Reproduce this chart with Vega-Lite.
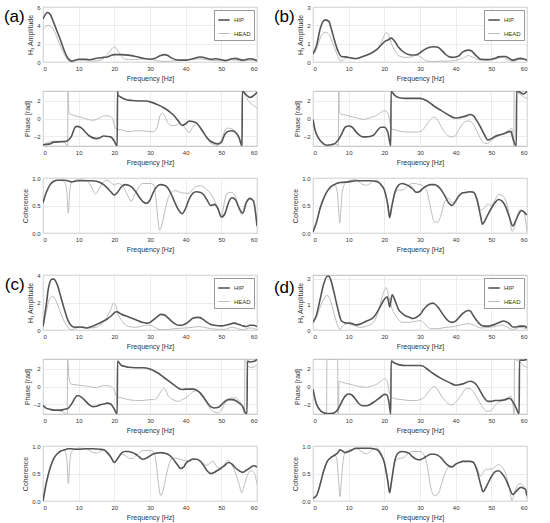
{
"$schema": "https://vega.github.io/schema/vega-lite/v6.json",
"padding": {"left": 3, "top": 3, "right": 3, "bottom": 3},
"config": {
 "font": "Liberation Sans",
 "view": {"stroke": "#aaaaaa", "strokeWidth": 0.8},
 "axis": {"domain": false, "ticks": false, "grid": true, "gridColor": "#e4e4e4", "gridWidth": 0.7, "labelFontSize": 6, "labelColor": "#333333", "titleFontSize": 7, "titleFontWeight": "normal", "titleColor": "#333333", "labelPadding": 3, "titlePadding": 3},
 "axisX": {"titleColor": "#333333", "labelColor": "#333333"},
 "axisY": {"titleColor": "#333333", "labelColor": "#333333"},
 "legend": {"symbolType": "stroke", "symbolSize": 130, "labelFontSize": 6, "labelColor": "#333333", "strokeColor": "#999999", "fillColor": "#ffffff", "padding": 3, "rowPadding": 3, "offset": 3, "labelOffset": 3},
 "title": {"fontWeight": "normal", "color": "#000000"}
},
"datasets": {
"a1": [
{"s":"HEAD","f":0,"v":3.6},{"s":"HEAD","f":1.5,"v":4.0},{"s":"HEAD","f":3,"v":3.5},{"s":"HEAD","f":4,"v":2.6},{"s":"HEAD","f":5,"v":1.6},{"s":"HEAD","f":6,"v":0.8},{"s":"HEAD","f":7,"v":0.2},{"s":"HEAD","f":8,"v":0.05},{"s":"HEAD","f":9,"v":0.15},{"s":"HEAD","f":10,"v":0.2},{"s":"HEAD","f":12,"v":0.15},{"s":"HEAD","f":14,"v":0.1},{"s":"HEAD","f":16,"v":0.2},{"s":"HEAD","f":17,"v":0.4},{"s":"HEAD","f":18,"v":0.8},{"s":"HEAD","f":19,"v":1.3},{"s":"HEAD","f":20,"v":1.65},{"s":"HEAD","f":21,"v":1.2},{"s":"HEAD","f":22,"v":0.6},{"s":"HEAD","f":23,"v":0.3},{"s":"HEAD","f":25,"v":0.25},{"s":"HEAD","f":27,"v":0.3},{"s":"HEAD","f":29,"v":0.35},{"s":"HEAD","f":30,"v":0.3},{"s":"HEAD","f":32,"v":0.15},{"s":"HEAD","f":34,"v":0.05},{"s":"HEAD","f":36,"v":0.1},{"s":"HEAD","f":38,"v":0.15},{"s":"HEAD","f":40,"v":0.25},{"s":"HEAD","f":42,"v":0.3},{"s":"HEAD","f":44,"v":0.35},{"s":"HEAD","f":46,"v":0.25},{"s":"HEAD","f":48,"v":0.15},{"s":"HEAD","f":50,"v":0.15},{"s":"HEAD","f":52,"v":0.25},{"s":"HEAD","f":54,"v":0.2},{"s":"HEAD","f":56,"v":0.1},{"s":"HEAD","f":58,"v":0.2},{"s":"HEAD","f":60,"v":0.1},
{"s":"HIP","f":0,"v":4.7},{"s":"HIP","f":1.3,"v":5.4},{"s":"HIP","f":2,"v":5.2},{"s":"HIP","f":3,"v":4.3},{"s":"HIP","f":4,"v":3.3},{"s":"HIP","f":5,"v":2.3},{"s":"HIP","f":6,"v":1.2},{"s":"HIP","f":7,"v":0.4},{"s":"HIP","f":8,"v":0.1},{"s":"HIP","f":9,"v":0.2},{"s":"HIP","f":10,"v":0.3},{"s":"HIP","f":12,"v":0.3},{"s":"HIP","f":13,"v":0.25},{"s":"HIP","f":15,"v":0.4},{"s":"HIP","f":17,"v":0.5},{"s":"HIP","f":18,"v":0.55},{"s":"HIP","f":19,"v":0.7},{"s":"HIP","f":20,"v":0.8},{"s":"HIP","f":22,"v":0.8},{"s":"HIP","f":24,"v":0.75},{"s":"HIP","f":26,"v":0.6},{"s":"HIP","f":28,"v":0.4},{"s":"HIP","f":30,"v":0.3},{"s":"HIP","f":31,"v":0.35},{"s":"HIP","f":33,"v":0.7},{"s":"HIP","f":34,"v":0.8},{"s":"HIP","f":35,"v":0.7},{"s":"HIP","f":36,"v":0.45},{"s":"HIP","f":38,"v":0.2},{"s":"HIP","f":40,"v":0.2},{"s":"HIP","f":42,"v":0.35},{"s":"HIP","f":44,"v":0.55},{"s":"HIP","f":45,"v":0.5},{"s":"HIP","f":47,"v":0.3},{"s":"HIP","f":48.5,"v":0.35},{"s":"HIP","f":50,"v":0.25},{"s":"HIP","f":51,"v":0.15},{"s":"HIP","f":53,"v":0.35},{"s":"HIP","f":54,"v":0.4},{"s":"HIP","f":55,"v":0.3},{"s":"HIP","f":56,"v":0.2},{"s":"HIP","f":58,"v":0.35},{"s":"HIP","f":59,"v":0.3},{"s":"HIP","f":60,"v":0.15}
],
"a2": [
{"s":"HEAD","f":0,"v":-3.0},{"s":"HEAD","f":1,"v":-2.8},{"s":"HEAD","f":3,"v":-2.6},{"s":"HEAD","f":5,"v":-2.6},{"s":"HEAD","f":6,"v":-2.7},{"s":"HEAD","f":6.9,"v":-3.14},{"s":"HEAD","f":7.0,"v":3.14},{"s":"HEAD","f":7.2,"v":1.0},{"s":"HEAD","f":7.5,"v":0.5},{"s":"HEAD","f":8,"v":0.45},{"s":"HEAD","f":9,"v":0.3},{"s":"HEAD","f":11,"v":0.1},{"s":"HEAD","f":13,"v":-0.15},{"s":"HEAD","f":14,"v":-0.2},{"s":"HEAD","f":15,"v":-0.1},{"s":"HEAD","f":16,"v":0.1},{"s":"HEAD","f":17,"v":0.3},{"s":"HEAD","f":18,"v":0.3},{"s":"HEAD","f":19,"v":0.2},{"s":"HEAD","f":19.5,"v":0},{"s":"HEAD","f":20,"v":-0.8},{"s":"HEAD","f":20.5,"v":-1.2},{"s":"HEAD","f":22,"v":-1.3},{"s":"HEAD","f":24,"v":-1.5},{"s":"HEAD","f":26,"v":-1.4},{"s":"HEAD","f":28,"v":-1.4},{"s":"HEAD","f":30,"v":-1.5},{"s":"HEAD","f":31,"v":-1.5},{"s":"HEAD","f":32,"v":-1.0},{"s":"HEAD","f":33,"v":0.5},{"s":"HEAD","f":33.5,"v":0.6},{"s":"HEAD","f":34,"v":0.4},{"s":"HEAD","f":35,"v":-0.5},{"s":"HEAD","f":36,"v":-0.8},{"s":"HEAD","f":37,"v":-0.8},{"s":"HEAD","f":38,"v":-0.6},{"s":"HEAD","f":39,"v":-0.7},{"s":"HEAD","f":40,"v":-1.2},{"s":"HEAD","f":41,"v":-1.6},{"s":"HEAD","f":42,"v":-1.0},{"s":"HEAD","f":43,"v":-0.6},{"s":"HEAD","f":44,"v":-0.9},{"s":"HEAD","f":45,"v":-1.6},{"s":"HEAD","f":46,"v":-2.3},{"s":"HEAD","f":47,"v":-2.8},{"s":"HEAD","f":48,"v":-3.0},{"s":"HEAD","f":49,"v":-3.1},{"s":"HEAD","f":50,"v":-2.5},{"s":"HEAD","f":51,"v":-1.4},{"s":"HEAD","f":52,"v":-1.1},{"s":"HEAD","f":53,"v":-1.2},{"s":"HEAD","f":54,"v":-1.5},{"s":"HEAD","f":55,"v":-2.4},{"s":"HEAD","f":55.8,"v":-3.14},{"s":"HEAD","f":55.9,"v":3.14},{"s":"HEAD","f":57,"v":2.4},{"s":"HEAD","f":58,"v":1.8},{"s":"HEAD","f":59,"v":1.5},{"s":"HEAD","f":60,"v":1.2},
{"s":"HIP","f":0,"v":-3.0},{"s":"HIP","f":2,"v":-2.9},{"s":"HIP","f":3,"v":-2.7},{"s":"HIP","f":5,"v":-2.65},{"s":"HIP","f":6.5,"v":-2.6},{"s":"HIP","f":7,"v":-2.5},{"s":"HIP","f":8,"v":-2.0},{"s":"HIP","f":9,"v":-1.0},{"s":"HIP","f":9.5,"v":-0.9},{"s":"HIP","f":10.5,"v":-1.0},{"s":"HIP","f":12,"v":-1.6},{"s":"HIP","f":13,"v":-2.0},{"s":"HIP","f":15,"v":-2.3},{"s":"HIP","f":16,"v":-2.2},{"s":"HIP","f":17,"v":-2.0},{"s":"HIP","f":18,"v":-2.05},{"s":"HIP","f":19,"v":-2.1},{"s":"HIP","f":20,"v":-2.6},{"s":"HIP","f":20.8,"v":-3.14},{"s":"HIP","f":20.9,"v":3.1},{"s":"HIP","f":21,"v":2.7},{"s":"HIP","f":22,"v":2.4},{"s":"HIP","f":23,"v":2.2},{"s":"HIP","f":25,"v":2.05},{"s":"HIP","f":27,"v":2.0},{"s":"HIP","f":29,"v":2.0},{"s":"HIP","f":30,"v":1.9},{"s":"HIP","f":32,"v":1.6},{"s":"HIP","f":34,"v":1.2},{"s":"HIP","f":36,"v":0.6},{"s":"HIP","f":37,"v":0.2},{"s":"HIP","f":38,"v":-0.3},{"s":"HIP","f":39,"v":-0.8},{"s":"HIP","f":40,"v":-0.6},{"s":"HIP","f":41,"v":-0.3},{"s":"HIP","f":42,"v":-0.35},{"s":"HIP","f":43,"v":-0.5},{"s":"HIP","f":44,"v":-1.0},{"s":"HIP","f":45,"v":-1.6},{"s":"HIP","f":46,"v":-2.2},{"s":"HIP","f":47,"v":-2.6},{"s":"HIP","f":48,"v":-2.8},{"s":"HIP","f":49,"v":-2.9},{"s":"HIP","f":50,"v":-2.7},{"s":"HIP","f":51,"v":-1.8},{"s":"HIP","f":52,"v":-1.45},{"s":"HIP","f":53,"v":-1.4},{"s":"HIP","f":54,"v":-1.6},{"s":"HIP","f":55,"v":-2.2},{"s":"HIP","f":55.8,"v":-3.14},{"s":"HIP","f":55.9,"v":3.14},{"s":"HIP","f":57,"v":2.7},{"s":"HIP","f":58,"v":2.4},{"s":"HIP","f":59,"v":2.6},{"s":"HIP","f":60,"v":3.0}
],
"a3": [
{"s":"HEAD","f":0,"v":0.55},{"s":"HEAD","f":1,"v":0.75},{"s":"HEAD","f":2,"v":0.88},{"s":"HEAD","f":3,"v":0.94},{"s":"HEAD","f":5,"v":0.96},{"s":"HEAD","f":6,"v":0.93},{"s":"HEAD","f":6.7,"v":0.75},{"s":"HEAD","f":7.1,"v":0.36},{"s":"HEAD","f":7.5,"v":0.75},{"s":"HEAD","f":8,"v":0.92},{"s":"HEAD","f":10,"v":0.97},{"s":"HEAD","f":12,"v":0.96},{"s":"HEAD","f":13,"v":0.9},{"s":"HEAD","f":14,"v":0.78},{"s":"HEAD","f":14.7,"v":0.71},{"s":"HEAD","f":15.5,"v":0.78},{"s":"HEAD","f":17,"v":0.93},{"s":"HEAD","f":18,"v":0.96},{"s":"HEAD","f":20,"v":0.88},{"s":"HEAD","f":21,"v":0.9},{"s":"HEAD","f":22,"v":0.88},{"s":"HEAD","f":23,"v":0.78},{"s":"HEAD","f":24,"v":0.65},{"s":"HEAD","f":24.7,"v":0.57},{"s":"HEAD","f":25.5,"v":0.67},{"s":"HEAD","f":27,"v":0.85},{"s":"HEAD","f":28,"v":0.9},{"s":"HEAD","f":30,"v":0.9},{"s":"HEAD","f":31,"v":0.88},{"s":"HEAD","f":31.7,"v":0.6},{"s":"HEAD","f":32.3,"v":0.2},{"s":"HEAD","f":32.7,"v":0.05},{"s":"HEAD","f":33.5,"v":0.2},{"s":"HEAD","f":34.5,"v":0.5},{"s":"HEAD","f":35.5,"v":0.7},{"s":"HEAD","f":37,"v":0.77},{"s":"HEAD","f":39,"v":0.73},{"s":"HEAD","f":41,"v":0.72},{"s":"HEAD","f":42,"v":0.8},{"s":"HEAD","f":44,"v":0.86},{"s":"HEAD","f":45,"v":0.84},{"s":"HEAD","f":46,"v":0.78},{"s":"HEAD","f":47,"v":0.72},{"s":"HEAD","f":48,"v":0.6},{"s":"HEAD","f":49,"v":0.45},{"s":"HEAD","f":50,"v":0.32},{"s":"HEAD","f":51,"v":0.6},{"s":"HEAD","f":51.5,"v":0.72},{"s":"HEAD","f":53,"v":0.74},{"s":"HEAD","f":54,"v":0.65},{"s":"HEAD","f":55,"v":0.45},{"s":"HEAD","f":55.7,"v":0.33},{"s":"HEAD","f":56.5,"v":0.5},{"s":"HEAD","f":57.5,"v":0.62},{"s":"HEAD","f":59,"v":0.6},{"s":"HEAD","f":60,"v":0.1},
{"s":"HIP","f":0,"v":0.55},{"s":"HIP","f":1,"v":0.75},{"s":"HIP","f":2,"v":0.88},{"s":"HIP","f":3,"v":0.94},{"s":"HIP","f":4,"v":0.96},{"s":"HIP","f":6,"v":0.96},{"s":"HIP","f":7,"v":0.95},{"s":"HIP","f":8,"v":0.93},{"s":"HIP","f":9,"v":0.94},{"s":"HIP","f":10,"v":0.95},{"s":"HIP","f":12,"v":0.95},{"s":"HIP","f":14,"v":0.95},{"s":"HIP","f":16,"v":0.92},{"s":"HIP","f":17,"v":0.88},{"s":"HIP","f":18,"v":0.82},{"s":"HIP","f":19,"v":0.75},{"s":"HIP","f":20,"v":0.69},{"s":"HIP","f":21,"v":0.75},{"s":"HIP","f":22,"v":0.84},{"s":"HIP","f":23,"v":0.88},{"s":"HIP","f":24,"v":0.87},{"s":"HIP","f":25,"v":0.83},{"s":"HIP","f":26,"v":0.75},{"s":"HIP","f":27,"v":0.65},{"s":"HIP","f":28,"v":0.57},{"s":"HIP","f":29,"v":0.54},{"s":"HIP","f":30,"v":0.6},{"s":"HIP","f":31,"v":0.75},{"s":"HIP","f":32,"v":0.85},{"s":"HIP","f":33,"v":0.88},{"s":"HIP","f":34,"v":0.87},{"s":"HIP","f":35,"v":0.82},{"s":"HIP","f":36,"v":0.7},{"s":"HIP","f":37,"v":0.55},{"s":"HIP","f":38,"v":0.42},{"s":"HIP","f":39,"v":0.35},{"s":"HIP","f":40,"v":0.45},{"s":"HIP","f":41,"v":0.62},{"s":"HIP","f":42,"v":0.72},{"s":"HIP","f":43,"v":0.75},{"s":"HIP","f":44,"v":0.74},{"s":"HIP","f":45,"v":0.7},{"s":"HIP","f":46,"v":0.6},{"s":"HIP","f":47,"v":0.5},{"s":"HIP","f":48,"v":0.52},{"s":"HIP","f":49,"v":0.45},{"s":"HIP","f":50,"v":0.29},{"s":"HIP","f":51,"v":0.35},{"s":"HIP","f":52,"v":0.55},{"s":"HIP","f":53,"v":0.64},{"s":"HIP","f":54,"v":0.6},{"s":"HIP","f":55,"v":0.45},{"s":"HIP","f":56,"v":0.36},{"s":"HIP","f":57,"v":0.55},{"s":"HIP","f":58,"v":0.63},{"s":"HIP","f":59,"v":0.58},{"s":"HIP","f":60,"v":0.13}
],
"b1": [
{"s":"HEAD","f":0,"v":0.4},{"s":"HEAD","f":1,"v":0.7},{"s":"HEAD","f":2,"v":1.3},{"s":"HEAD","f":3,"v":1.6},{"s":"HEAD","f":3.5,"v":1.62},{"s":"HEAD","f":4.5,"v":1.5},{"s":"HEAD","f":5,"v":1.3},{"s":"HEAD","f":6,"v":0.8},{"s":"HEAD","f":7,"v":0.3},{"s":"HEAD","f":7.7,"v":0.05},{"s":"HEAD","f":8.5,"v":0.1},{"s":"HEAD","f":9,"v":0.2},{"s":"HEAD","f":10,"v":0.25},{"s":"HEAD","f":12,"v":0.2},{"s":"HEAD","f":14,"v":0.3},{"s":"HEAD","f":16,"v":0.45},{"s":"HEAD","f":18,"v":0.7},{"s":"HEAD","f":19,"v":1.0},{"s":"HEAD","f":20,"v":1.45},{"s":"HEAD","f":20.5,"v":1.6},{"s":"HEAD","f":21,"v":1.55},{"s":"HEAD","f":22,"v":1.0},{"s":"HEAD","f":23,"v":0.6},{"s":"HEAD","f":24,"v":0.35},{"s":"HEAD","f":26,"v":0.25},{"s":"HEAD","f":28,"v":0.3},{"s":"HEAD","f":29,"v":0.38},{"s":"HEAD","f":30,"v":0.3},{"s":"HEAD","f":31,"v":0.15},{"s":"HEAD","f":32,"v":0.05},{"s":"HEAD","f":34,"v":0.02},{"s":"HEAD","f":36,"v":0.05},{"s":"HEAD","f":38,"v":0.05},{"s":"HEAD","f":40,"v":0.1},{"s":"HEAD","f":42,"v":0.2},{"s":"HEAD","f":43.5,"v":0.35},{"s":"HEAD","f":45,"v":0.25},{"s":"HEAD","f":47,"v":0.1},{"s":"HEAD","f":49,"v":0.1},{"s":"HEAD","f":51,"v":0.15},{"s":"HEAD","f":53,"v":0.25},{"s":"HEAD","f":54,"v":0.2},{"s":"HEAD","f":56,"v":0.02},{"s":"HEAD","f":57,"v":0.08},{"s":"HEAD","f":58,"v":0.15},{"s":"HEAD","f":60,"v":0.1},
{"s":"HIP","f":0,"v":0.45},{"s":"HIP","f":1,"v":0.9},{"s":"HIP","f":2,"v":1.8},{"s":"HIP","f":3,"v":2.25},{"s":"HIP","f":3.5,"v":2.3},{"s":"HIP","f":4.5,"v":2.2},{"s":"HIP","f":5,"v":1.9},{"s":"HIP","f":6,"v":1.2},{"s":"HIP","f":7,"v":0.6},{"s":"HIP","f":8,"v":0.3},{"s":"HIP","f":9,"v":0.28},{"s":"HIP","f":10,"v":0.25},{"s":"HIP","f":11,"v":0.2},{"s":"HIP","f":12,"v":0.18},{"s":"HIP","f":14,"v":0.3},{"s":"HIP","f":16,"v":0.45},{"s":"HIP","f":18,"v":0.7},{"s":"HIP","f":19,"v":0.9},{"s":"HIP","f":20,"v":1.1},{"s":"HIP","f":21,"v":1.2},{"s":"HIP","f":22,"v":1.3},{"s":"HIP","f":23,"v":1.1},{"s":"HIP","f":24,"v":0.8},{"s":"HIP","f":25,"v":0.6},{"s":"HIP","f":27,"v":0.4},{"s":"HIP","f":28,"v":0.38},{"s":"HIP","f":29,"v":0.4},{"s":"HIP","f":30,"v":0.5},{"s":"HIP","f":31,"v":0.65},{"s":"HIP","f":33,"v":0.82},{"s":"HIP","f":34,"v":0.83},{"s":"HIP","f":35,"v":0.8},{"s":"HIP","f":36,"v":0.65},{"s":"HIP","f":37,"v":0.45},{"s":"HIP","f":38,"v":0.3},{"s":"HIP","f":39,"v":0.25},{"s":"HIP","f":40,"v":0.27},{"s":"HIP","f":41,"v":0.35},{"s":"HIP","f":42,"v":0.55},{"s":"HIP","f":43.5,"v":0.65},{"s":"HIP","f":44.5,"v":0.6},{"s":"HIP","f":45,"v":0.5},{"s":"HIP","f":46,"v":0.3},{"s":"HIP","f":47,"v":0.15},{"s":"HIP","f":49,"v":0.13},{"s":"HIP","f":50,"v":0.15},{"s":"HIP","f":51,"v":0.2},{"s":"HIP","f":52,"v":0.28},{"s":"HIP","f":53,"v":0.3},{"s":"HIP","f":54,"v":0.3},{"s":"HIP","f":55,"v":0.2},{"s":"HIP","f":56,"v":0.1},{"s":"HIP","f":57,"v":0.15},{"s":"HIP","f":58,"v":0.2},{"s":"HIP","f":59,"v":0.18},{"s":"HIP","f":60,"v":0.1}
],
"b2": [
{"s":"HEAD","f":0,"v":-0.1},{"s":"HEAD","f":1,"v":-1.9},{"s":"HEAD","f":2,"v":-2.6},{"s":"HEAD","f":3,"v":-3.0},{"s":"HEAD","f":4,"v":-3.1},{"s":"HEAD","f":5,"v":-3.0},{"s":"HEAD","f":6,"v":-2.9},{"s":"HEAD","f":6.8,"v":-3.0},{"s":"HEAD","f":7.1,"v":-3.14},{"s":"HEAD","f":7.2,"v":3.14},{"s":"HEAD","f":7.4,"v":0.8},{"s":"HEAD","f":7.8,"v":0.5},{"s":"HEAD","f":9,"v":0.4},{"s":"HEAD","f":11,"v":0.2},{"s":"HEAD","f":13,"v":0.0},{"s":"HEAD","f":14,"v":-0.1},{"s":"HEAD","f":15,"v":-0.05},{"s":"HEAD","f":16,"v":0.1},{"s":"HEAD","f":18,"v":0.4},{"s":"HEAD","f":19,"v":0.7},{"s":"HEAD","f":20,"v":0.9},{"s":"HEAD","f":21,"v":0.6},{"s":"HEAD","f":21.6,"v":-0.5},{"s":"HEAD","f":22,"v":-1.2},{"s":"HEAD","f":23,"v":-1.3},{"s":"HEAD","f":25,"v":-1.5},{"s":"HEAD","f":27,"v":-1.55},{"s":"HEAD","f":29,"v":-1.55},{"s":"HEAD","f":30,"v":-1.5},{"s":"HEAD","f":31,"v":-1.2},{"s":"HEAD","f":32,"v":-0.6},{"s":"HEAD","f":33,"v":-0.1},{"s":"HEAD","f":34,"v":0.15},{"s":"HEAD","f":35,"v":-0.2},{"s":"HEAD","f":36,"v":-1.0},{"s":"HEAD","f":37,"v":-1.6},{"s":"HEAD","f":38,"v":-2.0},{"s":"HEAD","f":39,"v":-2.1},{"s":"HEAD","f":40,"v":-1.9},{"s":"HEAD","f":41,"v":-1.2},{"s":"HEAD","f":42,"v":-0.6},{"s":"HEAD","f":43,"v":-0.3},{"s":"HEAD","f":44,"v":-0.3},{"s":"HEAD","f":45,"v":-0.7},{"s":"HEAD","f":46,"v":-1.5},{"s":"HEAD","f":47,"v":-2.3},{"s":"HEAD","f":48,"v":-2.8},{"s":"HEAD","f":49,"v":-2.85},{"s":"HEAD","f":50,"v":-2.5},{"s":"HEAD","f":51,"v":-2.2},{"s":"HEAD","f":52,"v":-2.0},{"s":"HEAD","f":53,"v":-1.8},{"s":"HEAD","f":54,"v":-1.6},{"s":"HEAD","f":55,"v":-1.3},{"s":"HEAD","f":55.7,"v":-1.1},{"s":"HEAD","f":56,"v":-2.0},{"s":"HEAD","f":56.3,"v":-3.14},{"s":"HEAD","f":56.4,"v":3.14},{"s":"HEAD","f":57,"v":3.0},{"s":"HEAD","f":58,"v":2.8},{"s":"HEAD","f":59,"v":2.5},{"s":"HEAD","f":60,"v":2.3},
{"s":"HIP","f":0,"v":-0.1},{"s":"HIP","f":0.5,"v":-1.2},{"s":"HIP","f":1,"v":-1.8},{"s":"HIP","f":2,"v":-2.5},{"s":"HIP","f":3,"v":-2.9},{"s":"HIP","f":4,"v":-3.05},{"s":"HIP","f":5,"v":-3.0},{"s":"HIP","f":6,"v":-2.9},{"s":"HIP","f":7,"v":-2.5},{"s":"HIP","f":8,"v":-1.8},{"s":"HIP","f":9,"v":-1.0},{"s":"HIP","f":10,"v":-0.85},{"s":"HIP","f":11,"v":-1.0},{"s":"HIP","f":12,"v":-1.5},{"s":"HIP","f":13,"v":-1.9},{"s":"HIP","f":14,"v":-2.1},{"s":"HIP","f":15,"v":-2.1},{"s":"HIP","f":16,"v":-2.05},{"s":"HIP","f":17,"v":-1.9},{"s":"HIP","f":18,"v":-1.4},{"s":"HIP","f":19,"v":-1.0},{"s":"HIP","f":20,"v":-1.0},{"s":"HIP","f":21,"v":-1.6},{"s":"HIP","f":21.8,"v":-3.14},{"s":"HIP","f":21.9,"v":3.1},{"s":"HIP","f":23,"v":2.6},{"s":"HIP","f":24,"v":2.4},{"s":"HIP","f":26,"v":2.3},{"s":"HIP","f":28,"v":2.3},{"s":"HIP","f":30,"v":2.3},{"s":"HIP","f":31,"v":2.2},{"s":"HIP","f":32,"v":2.0},{"s":"HIP","f":34,"v":1.4},{"s":"HIP","f":36,"v":0.9},{"s":"HIP","f":38,"v":0.4},{"s":"HIP","f":40,"v":0.05},{"s":"HIP","f":41,"v":0.1},{"s":"HIP","f":43,"v":0.3},{"s":"HIP","f":44,"v":0.45},{"s":"HIP","f":45,"v":0.3},{"s":"HIP","f":46,"v":-0.3},{"s":"HIP","f":47,"v":-1.0},{"s":"HIP","f":48,"v":-1.8},{"s":"HIP","f":49,"v":-2.45},{"s":"HIP","f":50,"v":-2.3},{"s":"HIP","f":51,"v":-2.05},{"s":"HIP","f":52,"v":-1.9},{"s":"HIP","f":53,"v":-1.8},{"s":"HIP","f":54,"v":-1.65},{"s":"HIP","f":55,"v":-1.5},{"s":"HIP","f":55.5,"v":-1.5},{"s":"HIP","f":56,"v":-2.2},{"s":"HIP","f":57,"v":-3.14},{"s":"HIP","f":57.1,"v":3.14},{"s":"HIP","f":58,"v":3.0},{"s":"HIP","f":59,"v":2.8},{"s":"HIP","f":60,"v":3.1}
],
"b3": [
{"s":"HEAD","f":0,"v":0.02},{"s":"HEAD","f":1,"v":0.2},{"s":"HEAD","f":2,"v":0.45},{"s":"HEAD","f":3,"v":0.63},{"s":"HEAD","f":4,"v":0.76},{"s":"HEAD","f":5,"v":0.84},{"s":"HEAD","f":6,"v":0.88},{"s":"HEAD","f":6.8,"v":0.75},{"s":"HEAD","f":7.2,"v":0.4},{"s":"HEAD","f":7.5,"v":0.18},{"s":"HEAD","f":7.8,"v":0.4},{"s":"HEAD","f":8.2,"v":0.75},{"s":"HEAD","f":9,"v":0.9},{"s":"HEAD","f":10,"v":0.95},{"s":"HEAD","f":12,"v":0.97},{"s":"HEAD","f":13,"v":0.93},{"s":"HEAD","f":14,"v":0.88},{"s":"HEAD","f":15,"v":0.87},{"s":"HEAD","f":16,"v":0.9},{"s":"HEAD","f":17,"v":0.95},{"s":"HEAD","f":18,"v":0.96},{"s":"HEAD","f":19,"v":0.9},{"s":"HEAD","f":20,"v":0.78},{"s":"HEAD","f":21,"v":0.5},{"s":"HEAD","f":21.5,"v":0.3},{"s":"HEAD","f":22,"v":0.45},{"s":"HEAD","f":23,"v":0.72},{"s":"HEAD","f":24,"v":0.78},{"s":"HEAD","f":25,"v":0.78},{"s":"HEAD","f":26,"v":0.82},{"s":"HEAD","f":27,"v":0.88},{"s":"HEAD","f":28,"v":0.9},{"s":"HEAD","f":30,"v":0.88},{"s":"HEAD","f":31,"v":0.85},{"s":"HEAD","f":32,"v":0.75},{"s":"HEAD","f":33,"v":0.45},{"s":"HEAD","f":34,"v":0.2},{"s":"HEAD","f":35,"v":0.2},{"s":"HEAD","f":36,"v":0.35},{"s":"HEAD","f":37,"v":0.58},{"s":"HEAD","f":38,"v":0.63},{"s":"HEAD","f":39,"v":0.55},{"s":"HEAD","f":40,"v":0.6},{"s":"HEAD","f":41,"v":0.7},{"s":"HEAD","f":42,"v":0.73},{"s":"HEAD","f":43,"v":0.73},{"s":"HEAD","f":44,"v":0.75},{"s":"HEAD","f":45,"v":0.75},{"s":"HEAD","f":46,"v":0.63},{"s":"HEAD","f":47,"v":0.42},{"s":"HEAD","f":48,"v":0.45},{"s":"HEAD","f":49,"v":0.53},{"s":"HEAD","f":50,"v":0.5},{"s":"HEAD","f":51,"v":0.6},{"s":"HEAD","f":52,"v":0.7},{"s":"HEAD","f":53,"v":0.68},{"s":"HEAD","f":54,"v":0.6},{"s":"HEAD","f":55,"v":0.35},{"s":"HEAD","f":55.8,"v":0.03},{"s":"HEAD","f":56.5,"v":0.1},{"s":"HEAD","f":57,"v":0.25},{"s":"HEAD","f":58,"v":0.42},{"s":"HEAD","f":59,"v":0.4},{"s":"HEAD","f":60,"v":0.02},
{"s":"HIP","f":0,"v":0.02},{"s":"HIP","f":1,"v":0.2},{"s":"HIP","f":2,"v":0.45},{"s":"HIP","f":3,"v":0.63},{"s":"HIP","f":4,"v":0.76},{"s":"HIP","f":5,"v":0.84},{"s":"HIP","f":6,"v":0.88},{"s":"HIP","f":7,"v":0.91},{"s":"HIP","f":8,"v":0.92},{"s":"HIP","f":10,"v":0.93},{"s":"HIP","f":12,"v":0.95},{"s":"HIP","f":14,"v":0.95},{"s":"HIP","f":16,"v":0.95},{"s":"HIP","f":18,"v":0.93},{"s":"HIP","f":19,"v":0.88},{"s":"HIP","f":20,"v":0.78},{"s":"HIP","f":21,"v":0.5},{"s":"HIP","f":21.5,"v":0.28},{"s":"HIP","f":22,"v":0.45},{"s":"HIP","f":23,"v":0.75},{"s":"HIP","f":24,"v":0.87},{"s":"HIP","f":25,"v":0.9},{"s":"HIP","f":26,"v":0.88},{"s":"HIP","f":27,"v":0.85},{"s":"HIP","f":28,"v":0.8},{"s":"HIP","f":29,"v":0.74},{"s":"HIP","f":30,"v":0.76},{"s":"HIP","f":31,"v":0.82},{"s":"HIP","f":32,"v":0.86},{"s":"HIP","f":33,"v":0.88},{"s":"HIP","f":34,"v":0.88},{"s":"HIP","f":35,"v":0.85},{"s":"HIP","f":36,"v":0.78},{"s":"HIP","f":37,"v":0.67},{"s":"HIP","f":38,"v":0.55},{"s":"HIP","f":39,"v":0.5},{"s":"HIP","f":40,"v":0.58},{"s":"HIP","f":41,"v":0.68},{"s":"HIP","f":42,"v":0.73},{"s":"HIP","f":43,"v":0.74},{"s":"HIP","f":44,"v":0.75},{"s":"HIP","f":45,"v":0.74},{"s":"HIP","f":46,"v":0.6},{"s":"HIP","f":47,"v":0.3},{"s":"HIP","f":47.5,"v":0.16},{"s":"HIP","f":48,"v":0.2},{"s":"HIP","f":49,"v":0.33},{"s":"HIP","f":50,"v":0.45},{"s":"HIP","f":51,"v":0.55},{"s":"HIP","f":52,"v":0.61},{"s":"HIP","f":53,"v":0.58},{"s":"HIP","f":54,"v":0.48},{"s":"HIP","f":55,"v":0.3},{"s":"HIP","f":56,"v":0.13},{"s":"HIP","f":57,"v":0.25},{"s":"HIP","f":58,"v":0.38},{"s":"HIP","f":58.5,"v":0.41},{"s":"HIP","f":59,"v":0.39},{"s":"HIP","f":60,"v":0.33}
],
"c1": [
{"s":"HEAD","f":0,"v":0.2},{"s":"HEAD","f":1,"v":1.4},{"s":"HEAD","f":1.5,"v":2.0},{"s":"HEAD","f":2.5,"v":2.45},{"s":"HEAD","f":3,"v":2.4},{"s":"HEAD","f":4,"v":1.9},{"s":"HEAD","f":5,"v":1.2},{"s":"HEAD","f":6,"v":0.6},{"s":"HEAD","f":7,"v":0.2},{"s":"HEAD","f":7.8,"v":0.02},{"s":"HEAD","f":9,"v":0.1},{"s":"HEAD","f":10,"v":0.2},{"s":"HEAD","f":11,"v":0.25},{"s":"HEAD","f":12,"v":0.2},{"s":"HEAD","f":13,"v":0.15},{"s":"HEAD","f":15,"v":0.2},{"s":"HEAD","f":16,"v":0.35},{"s":"HEAD","f":17,"v":0.6},{"s":"HEAD","f":18,"v":0.95},{"s":"HEAD","f":19,"v":1.5},{"s":"HEAD","f":19.8,"v":1.95},{"s":"HEAD","f":20.5,"v":1.7},{"s":"HEAD","f":21,"v":1.2},{"s":"HEAD","f":22,"v":0.7},{"s":"HEAD","f":23,"v":0.4},{"s":"HEAD","f":24,"v":0.25},{"s":"HEAD","f":26,"v":0.2},{"s":"HEAD","f":28,"v":0.3},{"s":"HEAD","f":29,"v":0.35},{"s":"HEAD","f":30,"v":0.35},{"s":"HEAD","f":31,"v":0.25},{"s":"HEAD","f":32,"v":0.1},{"s":"HEAD","f":33,"v":0.02},{"s":"HEAD","f":35,"v":0.03},{"s":"HEAD","f":37,"v":0.1},{"s":"HEAD","f":40,"v":0.15},{"s":"HEAD","f":42,"v":0.2},{"s":"HEAD","f":43.5,"v":0.25},{"s":"HEAD","f":45,"v":0.2},{"s":"HEAD","f":47,"v":0.1},{"s":"HEAD","f":49,"v":0.05},{"s":"HEAD","f":51,"v":0.05},{"s":"HEAD","f":53,"v":0.2},{"s":"HEAD","f":54,"v":0.15},{"s":"HEAD","f":56,"v":0.02},{"s":"HEAD","f":58,"v":0.15},{"s":"HEAD","f":59,"v":0.12},{"s":"HEAD","f":60,"v":0.0},
{"s":"HIP","f":0,"v":0.25},{"s":"HIP","f":1,"v":2.0},{"s":"HIP","f":1.5,"v":3.0},{"s":"HIP","f":2.5,"v":3.7},{"s":"HIP","f":3,"v":3.7},{"s":"HIP","f":4,"v":3.3},{"s":"HIP","f":5,"v":2.4},{"s":"HIP","f":6,"v":1.5},{"s":"HIP","f":7,"v":0.7},{"s":"HIP","f":8,"v":0.3},{"s":"HIP","f":9,"v":0.2},{"s":"HIP","f":10,"v":0.22},{"s":"HIP","f":11,"v":0.2},{"s":"HIP","f":12,"v":0.15},{"s":"HIP","f":13,"v":0.2},{"s":"HIP","f":15,"v":0.4},{"s":"HIP","f":17,"v":0.65},{"s":"HIP","f":18,"v":0.8},{"s":"HIP","f":19,"v":1.0},{"s":"HIP","f":20,"v":1.25},{"s":"HIP","f":20.5,"v":1.33},{"s":"HIP","f":21,"v":1.3},{"s":"HIP","f":22,"v":1.15},{"s":"HIP","f":24,"v":0.95},{"s":"HIP","f":26,"v":0.75},{"s":"HIP","f":28,"v":0.55},{"s":"HIP","f":29,"v":0.5},{"s":"HIP","f":30,"v":0.55},{"s":"HIP","f":31,"v":0.75},{"s":"HIP","f":32,"v":0.95},{"s":"HIP","f":33,"v":1.14},{"s":"HIP","f":34,"v":1.1},{"s":"HIP","f":35,"v":0.9},{"s":"HIP","f":36,"v":0.65},{"s":"HIP","f":37,"v":0.45},{"s":"HIP","f":38,"v":0.35},{"s":"HIP","f":39,"v":0.35},{"s":"HIP","f":40,"v":0.45},{"s":"HIP","f":41,"v":0.65},{"s":"HIP","f":42,"v":0.85},{"s":"HIP","f":43.5,"v":0.92},{"s":"HIP","f":44,"v":0.9},{"s":"HIP","f":45,"v":0.75},{"s":"HIP","f":46,"v":0.55},{"s":"HIP","f":47,"v":0.4},{"s":"HIP","f":48,"v":0.35},{"s":"HIP","f":50,"v":0.3},{"s":"HIP","f":52,"v":0.4},{"s":"HIP","f":53.5,"v":0.5},{"s":"HIP","f":55,"v":0.4},{"s":"HIP","f":56,"v":0.3},{"s":"HIP","f":57,"v":0.25},{"s":"HIP","f":58,"v":0.35},{"s":"HIP","f":59,"v":0.35},{"s":"HIP","f":60,"v":0.25}
],
"c2": [
{"s":"HEAD","f":0,"v":-2.15},{"s":"HEAD","f":1,"v":-2.5},{"s":"HEAD","f":2,"v":-2.6},{"s":"HEAD","f":3,"v":-2.7},{"s":"HEAD","f":5,"v":-2.8},{"s":"HEAD","f":6,"v":-3.0},{"s":"HEAD","f":6.8,"v":-3.14},{"s":"HEAD","f":6.9,"v":3.14},{"s":"HEAD","f":7.3,"v":1.0},{"s":"HEAD","f":7.8,"v":0.3},{"s":"HEAD","f":9,"v":0.2},{"s":"HEAD","f":11,"v":0.1},{"s":"HEAD","f":13,"v":0.0},{"s":"HEAD","f":14,"v":-0.1},{"s":"HEAD","f":15,"v":-0.1},{"s":"HEAD","f":16,"v":0.0},{"s":"HEAD","f":17,"v":0.1},{"s":"HEAD","f":18,"v":0.1},{"s":"HEAD","f":19,"v":0.0},{"s":"HEAD","f":20,"v":-0.4},{"s":"HEAD","f":20.5,"v":-1.0},{"s":"HEAD","f":21,"v":-1.2},{"s":"HEAD","f":22,"v":-1.3},{"s":"HEAD","f":24,"v":-1.5},{"s":"HEAD","f":26,"v":-1.6},{"s":"HEAD","f":28,"v":-1.6},{"s":"HEAD","f":30,"v":-1.5},{"s":"HEAD","f":31,"v":-1.5},{"s":"HEAD","f":32,"v":-1.3},{"s":"HEAD","f":33,"v":-0.6},{"s":"HEAD","f":33.8,"v":-0.2},{"s":"HEAD","f":34.5,"v":-0.5},{"s":"HEAD","f":35,"v":-1.0},{"s":"HEAD","f":36,"v":-1.4},{"s":"HEAD","f":37,"v":-1.6},{"s":"HEAD","f":38,"v":-1.7},{"s":"HEAD","f":39,"v":-1.5},{"s":"HEAD","f":40,"v":-1.3},{"s":"HEAD","f":41,"v":-1.0},{"s":"HEAD","f":42,"v":-0.6},{"s":"HEAD","f":43,"v":-0.5},{"s":"HEAD","f":44,"v":-0.8},{"s":"HEAD","f":45,"v":-1.4},{"s":"HEAD","f":46,"v":-2.0},{"s":"HEAD","f":47,"v":-2.6},{"s":"HEAD","f":48,"v":-2.9},{"s":"HEAD","f":49,"v":-3.0},{"s":"HEAD","f":50,"v":-2.7},{"s":"HEAD","f":51,"v":-1.9},{"s":"HEAD","f":52,"v":-1.4},{"s":"HEAD","f":53,"v":-1.3},{"s":"HEAD","f":54,"v":-1.3},{"s":"HEAD","f":55,"v":-1.6},{"s":"HEAD","f":56,"v":-2.4},{"s":"HEAD","f":56.5,"v":-3.14},{"s":"HEAD","f":56.6,"v":3.14},{"s":"HEAD","f":57,"v":2.7},{"s":"HEAD","f":58,"v":2.2},{"s":"HEAD","f":59,"v":2.2},{"s":"HEAD","f":60,"v":2.5},
{"s":"HIP","f":0,"v":-2.15},{"s":"HIP","f":1,"v":-2.5},{"s":"HIP","f":2,"v":-2.6},{"s":"HIP","f":3,"v":-2.7},{"s":"HIP","f":5,"v":-2.7},{"s":"HIP","f":6,"v":-2.6},{"s":"HIP","f":7,"v":-2.5},{"s":"HIP","f":8,"v":-2.0},{"s":"HIP","f":9,"v":-1.3},{"s":"HIP","f":9.5,"v":-1.05},{"s":"HIP","f":10,"v":-1.05},{"s":"HIP","f":11,"v":-1.3},{"s":"HIP","f":12,"v":-1.7},{"s":"HIP","f":13,"v":-2.1},{"s":"HIP","f":14,"v":-2.3},{"s":"HIP","f":15,"v":-2.25},{"s":"HIP","f":16,"v":-2.1},{"s":"HIP","f":17,"v":-2.0},{"s":"HIP","f":18,"v":-1.9},{"s":"HIP","f":19,"v":-2.0},{"s":"HIP","f":20,"v":-2.6},{"s":"HIP","f":20.8,"v":-3.14},{"s":"HIP","f":20.9,"v":2.9},{"s":"HIP","f":22,"v":2.4},{"s":"HIP","f":23,"v":2.3},{"s":"HIP","f":24,"v":2.2},{"s":"HIP","f":26,"v":2.15},{"s":"HIP","f":28,"v":2.15},{"s":"HIP","f":30,"v":2.0},{"s":"HIP","f":32,"v":1.6},{"s":"HIP","f":34,"v":1.0},{"s":"HIP","f":36,"v":0.4},{"s":"HIP","f":37,"v":0.1},{"s":"HIP","f":38,"v":-0.2},{"s":"HIP","f":39,"v":-0.35},{"s":"HIP","f":40,"v":-0.3},{"s":"HIP","f":42,"v":-0.3},{"s":"HIP","f":43,"v":-0.4},{"s":"HIP","f":44,"v":-0.7},{"s":"HIP","f":45,"v":-1.2},{"s":"HIP","f":46,"v":-1.8},{"s":"HIP","f":47,"v":-2.3},{"s":"HIP","f":48,"v":-2.45},{"s":"HIP","f":49,"v":-2.4},{"s":"HIP","f":50,"v":-2.1},{"s":"HIP","f":51,"v":-1.7},{"s":"HIP","f":52,"v":-1.5},{"s":"HIP","f":53,"v":-1.5},{"s":"HIP","f":54,"v":-1.6},{"s":"HIP","f":55,"v":-1.9},{"s":"HIP","f":56,"v":-2.3},{"s":"HIP","f":56.5,"v":-2.8},{"s":"HIP","f":57.2,"v":-3.14},{"s":"HIP","f":57.3,"v":2.9},{"s":"HIP","f":58,"v":2.8},{"s":"HIP","f":59,"v":2.85},{"s":"HIP","f":60,"v":3.1}
],
"c3": [
{"s":"HEAD","f":0,"v":0.0},{"s":"HEAD","f":1,"v":0.35},{"s":"HEAD","f":2,"v":0.6},{"s":"HEAD","f":3,"v":0.77},{"s":"HEAD","f":4,"v":0.86},{"s":"HEAD","f":5,"v":0.91},{"s":"HEAD","f":6,"v":0.92},{"s":"HEAD","f":6.7,"v":0.75},{"s":"HEAD","f":7.1,"v":0.32},{"s":"HEAD","f":7.5,"v":0.7},{"s":"HEAD","f":8,"v":0.9},{"s":"HEAD","f":9,"v":0.95},{"s":"HEAD","f":10,"v":0.96},{"s":"HEAD","f":12,"v":0.95},{"s":"HEAD","f":13,"v":0.92},{"s":"HEAD","f":14,"v":0.88},{"s":"HEAD","f":15,"v":0.87},{"s":"HEAD","f":16,"v":0.9},{"s":"HEAD","f":17,"v":0.93},{"s":"HEAD","f":18,"v":0.9},{"s":"HEAD","f":19,"v":0.8},{"s":"HEAD","f":20,"v":0.72},{"s":"HEAD","f":21,"v":0.78},{"s":"HEAD","f":22,"v":0.85},{"s":"HEAD","f":23,"v":0.83},{"s":"HEAD","f":24,"v":0.78},{"s":"HEAD","f":25,"v":0.77},{"s":"HEAD","f":26,"v":0.82},{"s":"HEAD","f":27,"v":0.88},{"s":"HEAD","f":28,"v":0.92},{"s":"HEAD","f":30,"v":0.92},{"s":"HEAD","f":31,"v":0.9},{"s":"HEAD","f":31.7,"v":0.7},{"s":"HEAD","f":32.3,"v":0.35},{"s":"HEAD","f":33,"v":0.1},{"s":"HEAD","f":33.7,"v":0.2},{"s":"HEAD","f":34.5,"v":0.45},{"s":"HEAD","f":35.5,"v":0.7},{"s":"HEAD","f":36.5,"v":0.78},{"s":"HEAD","f":38,"v":0.77},{"s":"HEAD","f":40,"v":0.73},{"s":"HEAD","f":41,"v":0.74},{"s":"HEAD","f":42,"v":0.77},{"s":"HEAD","f":43,"v":0.76},{"s":"HEAD","f":44,"v":0.72},{"s":"HEAD","f":45,"v":0.68},{"s":"HEAD","f":46,"v":0.65},{"s":"HEAD","f":47,"v":0.7},{"s":"HEAD","f":47.7,"v":0.72},{"s":"HEAD","f":48.5,"v":0.65},{"s":"HEAD","f":49,"v":0.6},{"s":"HEAD","f":50,"v":0.6},{"s":"HEAD","f":51,"v":0.68},{"s":"HEAD","f":51.8,"v":0.74},{"s":"HEAD","f":53,"v":0.65},{"s":"HEAD","f":54,"v":0.5},{"s":"HEAD","f":55,"v":0.3},{"s":"HEAD","f":55.7,"v":0.15},{"s":"HEAD","f":56.5,"v":0.3},{"s":"HEAD","f":57.5,"v":0.5},{"s":"HEAD","f":58.5,"v":0.55},{"s":"HEAD","f":59.3,"v":0.5},{"s":"HEAD","f":60,"v":0.3},
{"s":"HIP","f":0,"v":0.0},{"s":"HIP","f":1,"v":0.35},{"s":"HIP","f":2,"v":0.6},{"s":"HIP","f":3,"v":0.77},{"s":"HIP","f":4,"v":0.86},{"s":"HIP","f":5,"v":0.91},{"s":"HIP","f":6,"v":0.93},{"s":"HIP","f":7,"v":0.95},{"s":"HIP","f":8,"v":0.95},{"s":"HIP","f":9,"v":0.94},{"s":"HIP","f":10,"v":0.94},{"s":"HIP","f":12,"v":0.95},{"s":"HIP","f":14,"v":0.95},{"s":"HIP","f":16,"v":0.94},{"s":"HIP","f":17,"v":0.93},{"s":"HIP","f":18,"v":0.88},{"s":"HIP","f":19,"v":0.8},{"s":"HIP","f":20,"v":0.7},{"s":"HIP","f":21,"v":0.78},{"s":"HIP","f":22,"v":0.87},{"s":"HIP","f":23,"v":0.9},{"s":"HIP","f":24,"v":0.9},{"s":"HIP","f":25,"v":0.88},{"s":"HIP","f":26,"v":0.85},{"s":"HIP","f":27,"v":0.8},{"s":"HIP","f":28,"v":0.76},{"s":"HIP","f":29,"v":0.78},{"s":"HIP","f":30,"v":0.82},{"s":"HIP","f":31,"v":0.86},{"s":"HIP","f":32,"v":0.87},{"s":"HIP","f":33,"v":0.88},{"s":"HIP","f":34,"v":0.87},{"s":"HIP","f":35,"v":0.85},{"s":"HIP","f":36,"v":0.8},{"s":"HIP","f":37,"v":0.72},{"s":"HIP","f":38,"v":0.63},{"s":"HIP","f":38.5,"v":0.59},{"s":"HIP","f":39.5,"v":0.62},{"s":"HIP","f":40,"v":0.68},{"s":"HIP","f":41,"v":0.73},{"s":"HIP","f":42,"v":0.76},{"s":"HIP","f":43,"v":0.76},{"s":"HIP","f":44,"v":0.73},{"s":"HIP","f":45,"v":0.65},{"s":"HIP","f":46,"v":0.55},{"s":"HIP","f":47,"v":0.5},{"s":"HIP","f":48,"v":0.52},{"s":"HIP","f":49,"v":0.56},{"s":"HIP","f":50,"v":0.6},{"s":"HIP","f":51,"v":0.65},{"s":"HIP","f":52,"v":0.7},{"s":"HIP","f":53,"v":0.67},{"s":"HIP","f":54,"v":0.6},{"s":"HIP","f":55,"v":0.55},{"s":"HIP","f":56,"v":0.52},{"s":"HIP","f":57,"v":0.56},{"s":"HIP","f":58,"v":0.6},{"s":"HIP","f":59,"v":0.64},{"s":"HIP","f":60,"v":0.62}
],
"d1": [
{"s":"HEAD","f":0,"v":0.3},{"s":"HEAD","f":1,"v":0.5},{"s":"HEAD","f":2,"v":0.9},{"s":"HEAD","f":3,"v":1.2},{"s":"HEAD","f":3.8,"v":1.35},{"s":"HEAD","f":4.5,"v":1.3},{"s":"HEAD","f":5,"v":1.1},{"s":"HEAD","f":6,"v":0.6},{"s":"HEAD","f":7,"v":0.15},{"s":"HEAD","f":7.5,"v":0.02},{"s":"HEAD","f":8,"v":0.1},{"s":"HEAD","f":9,"v":0.22},{"s":"HEAD","f":10,"v":0.25},{"s":"HEAD","f":11,"v":0.2},{"s":"HEAD","f":12,"v":0.15},{"s":"HEAD","f":13,"v":0.1},{"s":"HEAD","f":15,"v":0.15},{"s":"HEAD","f":17,"v":0.3},{"s":"HEAD","f":18,"v":0.6},{"s":"HEAD","f":19,"v":1.1},{"s":"HEAD","f":20,"v":1.55},{"s":"HEAD","f":20.5,"v":1.66},{"s":"HEAD","f":21,"v":1.45},{"s":"HEAD","f":22,"v":0.9},{"s":"HEAD","f":23,"v":0.6},{"s":"HEAD","f":24,"v":0.4},{"s":"HEAD","f":25,"v":0.3},{"s":"HEAD","f":27,"v":0.3},{"s":"HEAD","f":29,"v":0.35},{"s":"HEAD","f":30,"v":0.37},{"s":"HEAD","f":31,"v":0.3},{"s":"HEAD","f":32,"v":0.15},{"s":"HEAD","f":33,"v":0.05},{"s":"HEAD","f":35,"v":0.05},{"s":"HEAD","f":37,"v":0.1},{"s":"HEAD","f":39,"v":0.12},{"s":"HEAD","f":41,"v":0.18},{"s":"HEAD","f":43.5,"v":0.25},{"s":"HEAD","f":45,"v":0.2},{"s":"HEAD","f":47,"v":0.08},{"s":"HEAD","f":49,"v":0.1},{"s":"HEAD","f":51,"v":0.13},{"s":"HEAD","f":53,"v":0.2},{"s":"HEAD","f":54,"v":0.15},{"s":"HEAD","f":56,"v":0.02},{"s":"HEAD","f":58,"v":0.1},{"s":"HEAD","f":60,"v":0.05},
{"s":"HIP","f":0,"v":0.3},{"s":"HIP","f":1,"v":0.6},{"s":"HIP","f":2,"v":1.2},{"s":"HIP","f":3,"v":1.8},{"s":"HIP","f":4,"v":2.1},{"s":"HIP","f":4.5,"v":2.1},{"s":"HIP","f":5,"v":1.95},{"s":"HIP","f":6,"v":1.4},{"s":"HIP","f":7,"v":0.8},{"s":"HIP","f":8,"v":0.35},{"s":"HIP","f":9,"v":0.28},{"s":"HIP","f":10,"v":0.27},{"s":"HIP","f":11,"v":0.25},{"s":"HIP","f":12,"v":0.2},{"s":"HIP","f":13,"v":0.22},{"s":"HIP","f":15,"v":0.35},{"s":"HIP","f":17,"v":0.5},{"s":"HIP","f":18,"v":0.7},{"s":"HIP","f":19,"v":0.95},{"s":"HIP","f":20,"v":1.2},{"s":"HIP","f":20.8,"v":1.3},{"s":"HIP","f":21.2,"v":1.1},{"s":"HIP","f":21.5,"v":0.9},{"s":"HIP","f":21.8,"v":1.1},{"s":"HIP","f":22.2,"v":1.38},{"s":"HIP","f":23,"v":1.15},{"s":"HIP","f":24,"v":0.8},{"s":"HIP","f":25,"v":0.65},{"s":"HIP","f":26,"v":0.55},{"s":"HIP","f":27,"v":0.5},{"s":"HIP","f":28,"v":0.45},{"s":"HIP","f":29,"v":0.5},{"s":"HIP","f":30,"v":0.6},{"s":"HIP","f":31,"v":0.8},{"s":"HIP","f":32,"v":0.95},{"s":"HIP","f":33.5,"v":1.05},{"s":"HIP","f":34,"v":1.03},{"s":"HIP","f":35,"v":0.9},{"s":"HIP","f":36,"v":0.7},{"s":"HIP","f":37,"v":0.5},{"s":"HIP","f":38,"v":0.35},{"s":"HIP","f":39,"v":0.3},{"s":"HIP","f":40,"v":0.35},{"s":"HIP","f":41,"v":0.5},{"s":"HIP","f":42,"v":0.65},{"s":"HIP","f":43.5,"v":0.76},{"s":"HIP","f":44,"v":0.75},{"s":"HIP","f":45,"v":0.55},{"s":"HIP","f":46,"v":0.35},{"s":"HIP","f":47,"v":0.2},{"s":"HIP","f":48,"v":0.15},{"s":"HIP","f":49,"v":0.15},{"s":"HIP","f":50,"v":0.18},{"s":"HIP","f":51,"v":0.22},{"s":"HIP","f":52,"v":0.28},{"s":"HIP","f":53.5,"v":0.35},{"s":"HIP","f":54,"v":0.33},{"s":"HIP","f":55,"v":0.25},{"s":"HIP","f":56,"v":0.12},{"s":"HIP","f":57,"v":0.12},{"s":"HIP","f":58,"v":0.15},{"s":"HIP","f":59,"v":0.15},{"s":"HIP","f":60,"v":0.1}
],
"d2": [
{"s":"HEAD","f":0,"v":-0.2},{"s":"HEAD","f":1,"v":-2.2},{"s":"HEAD","f":2,"v":-2.8},{"s":"HEAD","f":3,"v":-3.0},{"s":"HEAD","f":3.8,"v":-3.14},{"s":"HEAD","f":3.9,"v":3.14},{"s":"HEAD","f":5,"v":3.1},{"s":"HEAD","f":6.9,"v":3.14},{"s":"HEAD","f":7.0,"v":-3.14},{"s":"HEAD","f":7.1,"v":-3.0},{"s":"HEAD","f":7.3,"v":0.6},{"s":"HEAD","f":8,"v":0.5},{"s":"HEAD","f":9,"v":0.4},{"s":"HEAD","f":11,"v":0.2},{"s":"HEAD","f":13,"v":0.0},{"s":"HEAD","f":15,"v":-0.1},{"s":"HEAD","f":16,"v":0.0},{"s":"HEAD","f":18,"v":0.3},{"s":"HEAD","f":19,"v":0.6},{"s":"HEAD","f":20,"v":0.9},{"s":"HEAD","f":20.7,"v":0.7},{"s":"HEAD","f":21.3,"v":-0.5},{"s":"HEAD","f":22,"v":-1.2},{"s":"HEAD","f":23,"v":-1.4},{"s":"HEAD","f":25,"v":-1.5},{"s":"HEAD","f":27,"v":-1.6},{"s":"HEAD","f":29,"v":-1.6},{"s":"HEAD","f":30,"v":-1.5},{"s":"HEAD","f":31,"v":-1.3},{"s":"HEAD","f":32,"v":-0.8},{"s":"HEAD","f":33,"v":-0.3},{"s":"HEAD","f":34,"v":0.0},{"s":"HEAD","f":35,"v":-0.4},{"s":"HEAD","f":36,"v":-1.1},{"s":"HEAD","f":37,"v":-1.6},{"s":"HEAD","f":38,"v":-2.0},{"s":"HEAD","f":39,"v":-2.1},{"s":"HEAD","f":40,"v":-1.8},{"s":"HEAD","f":41,"v":-1.3},{"s":"HEAD","f":42,"v":-0.7},{"s":"HEAD","f":43,"v":-0.2},{"s":"HEAD","f":44,"v":-0.25},{"s":"HEAD","f":45,"v":-0.6},{"s":"HEAD","f":46,"v":-1.3},{"s":"HEAD","f":47,"v":-2.0},{"s":"HEAD","f":48,"v":-2.6},{"s":"HEAD","f":49,"v":-2.85},{"s":"HEAD","f":50,"v":-2.7},{"s":"HEAD","f":51,"v":-2.2},{"s":"HEAD","f":52,"v":-1.8},{"s":"HEAD","f":53,"v":-1.6},{"s":"HEAD","f":54,"v":-1.4},{"s":"HEAD","f":55,"v":-1.2},{"s":"HEAD","f":55.5,"v":-1.1},{"s":"HEAD","f":56,"v":-2.0},{"s":"HEAD","f":56.4,"v":-3.14},{"s":"HEAD","f":56.5,"v":3.14},{"s":"HEAD","f":57,"v":3.0},{"s":"HEAD","f":58,"v":2.8},{"s":"HEAD","f":59,"v":2.4},{"s":"HEAD","f":60,"v":2.2},
{"s":"HIP","f":0,"v":-0.3},{"s":"HIP","f":0.5,"v":-1.3},{"s":"HIP","f":1,"v":-2.0},{"s":"HIP","f":2,"v":-2.7},{"s":"HIP","f":3,"v":-3.0},{"s":"HIP","f":4,"v":-3.1},{"s":"HIP","f":5,"v":-3.1},{"s":"HIP","f":6,"v":-3.0},{"s":"HIP","f":7,"v":-2.6},{"s":"HIP","f":8,"v":-1.8},{"s":"HIP","f":9,"v":-1.1},{"s":"HIP","f":10,"v":-0.85},{"s":"HIP","f":11,"v":-1.0},{"s":"HIP","f":12,"v":-1.5},{"s":"HIP","f":13,"v":-2.0},{"s":"HIP","f":14,"v":-2.2},{"s":"HIP","f":15,"v":-2.2},{"s":"HIP","f":16,"v":-2.05},{"s":"HIP","f":17,"v":-1.8},{"s":"HIP","f":18,"v":-1.5},{"s":"HIP","f":19,"v":-1.2},{"s":"HIP","f":20,"v":-0.9},{"s":"HIP","f":20.7,"v":-0.95},{"s":"HIP","f":21.3,"v":-1.8},{"s":"HIP","f":21.8,"v":-3.14},{"s":"HIP","f":21.9,"v":2.9},{"s":"HIP","f":23,"v":2.65},{"s":"HIP","f":24,"v":2.5},{"s":"HIP","f":26,"v":2.4},{"s":"HIP","f":28,"v":2.4},{"s":"HIP","f":30,"v":2.4},{"s":"HIP","f":31,"v":2.3},{"s":"HIP","f":32,"v":2.0},{"s":"HIP","f":34,"v":1.4},{"s":"HIP","f":36,"v":0.9},{"s":"HIP","f":38,"v":0.5},{"s":"HIP","f":40,"v":0.15},{"s":"HIP","f":41,"v":0.2},{"s":"HIP","f":42,"v":0.3},{"s":"HIP","f":44,"v":0.6},{"s":"HIP","f":45,"v":0.5},{"s":"HIP","f":46,"v":0.1},{"s":"HIP","f":47,"v":-0.6},{"s":"HIP","f":48,"v":-1.3},{"s":"HIP","f":49,"v":-1.7},{"s":"HIP","f":50,"v":-1.7},{"s":"HIP","f":51,"v":-1.6},{"s":"HIP","f":52,"v":-1.6},{"s":"HIP","f":54,"v":-1.5},{"s":"HIP","f":55,"v":-1.35},{"s":"HIP","f":56,"v":-1.7},{"s":"HIP","f":57,"v":-2.5},{"s":"HIP","f":57.8,"v":-3.14},{"s":"HIP","f":57.9,"v":3.0},{"s":"HIP","f":59,"v":3.0},{"s":"HIP","f":60,"v":3.1}
],
"d3": [
{"s":"HEAD","f":0,"v":0.05},{"s":"HEAD","f":1,"v":0.1},{"s":"HEAD","f":2,"v":0.3},{"s":"HEAD","f":3,"v":0.55},{"s":"HEAD","f":4,"v":0.72},{"s":"HEAD","f":5,"v":0.79},{"s":"HEAD","f":6,"v":0.84},{"s":"HEAD","f":6.7,"v":0.75},{"s":"HEAD","f":7.2,"v":0.35},{"s":"HEAD","f":7.6,"v":0.08},{"s":"HEAD","f":8,"v":0.4},{"s":"HEAD","f":8.5,"v":0.75},{"s":"HEAD","f":9,"v":0.88},{"s":"HEAD","f":10,"v":0.92},{"s":"HEAD","f":12,"v":0.95},{"s":"HEAD","f":13,"v":0.93},{"s":"HEAD","f":14,"v":0.88},{"s":"HEAD","f":15,"v":0.86},{"s":"HEAD","f":16,"v":0.9},{"s":"HEAD","f":17,"v":0.95},{"s":"HEAD","f":18,"v":0.96},{"s":"HEAD","f":19,"v":0.88},{"s":"HEAD","f":20,"v":0.7},{"s":"HEAD","f":21,"v":0.35},{"s":"HEAD","f":21.5,"v":0.15},{"s":"HEAD","f":22,"v":0.35},{"s":"HEAD","f":23,"v":0.72},{"s":"HEAD","f":24,"v":0.77},{"s":"HEAD","f":25,"v":0.78},{"s":"HEAD","f":26,"v":0.82},{"s":"HEAD","f":27,"v":0.88},{"s":"HEAD","f":28,"v":0.9},{"s":"HEAD","f":30,"v":0.9},{"s":"HEAD","f":31,"v":0.85},{"s":"HEAD","f":32,"v":0.65},{"s":"HEAD","f":33,"v":0.25},{"s":"HEAD","f":34,"v":0.1},{"s":"HEAD","f":35,"v":0.12},{"s":"HEAD","f":36,"v":0.3},{"s":"HEAD","f":37,"v":0.5},{"s":"HEAD","f":38,"v":0.62},{"s":"HEAD","f":39,"v":0.63},{"s":"HEAD","f":40,"v":0.66},{"s":"HEAD","f":41,"v":0.7},{"s":"HEAD","f":42,"v":0.72},{"s":"HEAD","f":44,"v":0.72},{"s":"HEAD","f":45,"v":0.7},{"s":"HEAD","f":46,"v":0.6},{"s":"HEAD","f":47,"v":0.45},{"s":"HEAD","f":48,"v":0.55},{"s":"HEAD","f":49,"v":0.58},{"s":"HEAD","f":50,"v":0.58},{"s":"HEAD","f":51,"v":0.62},{"s":"HEAD","f":52,"v":0.66},{"s":"HEAD","f":53,"v":0.62},{"s":"HEAD","f":54,"v":0.5},{"s":"HEAD","f":55,"v":0.25},{"s":"HEAD","f":55.8,"v":0.01},{"s":"HEAD","f":56.5,"v":0.15},{"s":"HEAD","f":57,"v":0.25},{"s":"HEAD","f":58,"v":0.32},{"s":"HEAD","f":59,"v":0.28},{"s":"HEAD","f":60,"v":0.05},
{"s":"HIP","f":0,"v":0.05},{"s":"HIP","f":1,"v":0.1},{"s":"HIP","f":2,"v":0.3},{"s":"HIP","f":3,"v":0.55},{"s":"HIP","f":4,"v":0.72},{"s":"HIP","f":5,"v":0.79},{"s":"HIP","f":6,"v":0.83},{"s":"HIP","f":7,"v":0.88},{"s":"HIP","f":7.5,"v":0.93},{"s":"HIP","f":8,"v":0.92},{"s":"HIP","f":9,"v":0.88},{"s":"HIP","f":10,"v":0.9},{"s":"HIP","f":11,"v":0.93},{"s":"HIP","f":12,"v":0.96},{"s":"HIP","f":14,"v":0.96},{"s":"HIP","f":16,"v":0.96},{"s":"HIP","f":18,"v":0.93},{"s":"HIP","f":19,"v":0.85},{"s":"HIP","f":20,"v":0.7},{"s":"HIP","f":21,"v":0.35},{"s":"HIP","f":21.5,"v":0.15},{"s":"HIP","f":22,"v":0.35},{"s":"HIP","f":23,"v":0.75},{"s":"HIP","f":24,"v":0.88},{"s":"HIP","f":25,"v":0.9},{"s":"HIP","f":26,"v":0.89},{"s":"HIP","f":27,"v":0.86},{"s":"HIP","f":28,"v":0.8},{"s":"HIP","f":29,"v":0.76},{"s":"HIP","f":30,"v":0.75},{"s":"HIP","f":31,"v":0.78},{"s":"HIP","f":32,"v":0.82},{"s":"HIP","f":33,"v":0.85},{"s":"HIP","f":34,"v":0.85},{"s":"HIP","f":35,"v":0.83},{"s":"HIP","f":36,"v":0.78},{"s":"HIP","f":37,"v":0.7},{"s":"HIP","f":38,"v":0.64},{"s":"HIP","f":39,"v":0.62},{"s":"HIP","f":40,"v":0.67},{"s":"HIP","f":41,"v":0.7},{"s":"HIP","f":42,"v":0.72},{"s":"HIP","f":44,"v":0.72},{"s":"HIP","f":45,"v":0.7},{"s":"HIP","f":46,"v":0.55},{"s":"HIP","f":47,"v":0.3},{"s":"HIP","f":47.7,"v":0.17},{"s":"HIP","f":48.5,"v":0.25},{"s":"HIP","f":49.5,"v":0.38},{"s":"HIP","f":51,"v":0.53},{"s":"HIP","f":52,"v":0.55},{"s":"HIP","f":53,"v":0.5},{"s":"HIP","f":54,"v":0.4},{"s":"HIP","f":55,"v":0.25},{"s":"HIP","f":56,"v":0.12},{"s":"HIP","f":57,"v":0.18},{"s":"HIP","f":58,"v":0.24},{"s":"HIP","f":58.5,"v":0.25},{"s":"HIP","f":59,"v":0.23},{"s":"HIP","f":59.5,"v":0.22},{"s":"HIP","f":60,"v":0.1}
]
},
"spacing": 18,
"resolve": {"scale": {"color": "independent", "strokeWidth": "independent"}},
"vconcat": [
{"hconcat": [
 {"spacing": 8, "resolve": {"scale": {"color": "independent", "strokeWidth": "independent"}}, "vconcat": [
  {"data": {"name": "a1"}, "width": 214, "height": 55,
   "title": {"text": "(a)", "orient": "left", "angle": 0, "anchor": "end", "align": "left", "baseline": "top", "fontSize": 17, "offset": 2, "dy": 5},
   "mark": {"type": "line", "interpolate": "monotone", "clip": true},
   "encoding": {
    "x": {"field": "f", "type": "quantitative", "scale": {"domain": [0, 60], "nice": false}, "axis": {"title": "Frequency [Hz]", "values": [0, 10, 20, 30, 40, 50, 60]}},
    "y": {"field": "v", "type": "quantitative", "scale": {"domain": [0, 6], "nice": false}, "axis": {"title": "H₁ Amplitude", "values": [0, 2, 4, 6]}},
    "color": {"field": "s", "type": "nominal", "scale": {"domain": ["HIP", "HEAD"], "range": ["#555555", "#bdbdbd"]}, "legend": {"title": null, "orient": "top-right"}},
    "strokeWidth": {"field": "s", "type": "ordinal", "scale": {"domain": ["HIP", "HEAD"], "range": [1.6, 1.0]}, "legend": {"title": null, "orient": "top-right"}}}},
  {"data": {"name": "a2"}, "width": 214, "height": 55,
   "mark": {"type": "line", "interpolate": "monotone", "clip": true},
   "encoding": {
    "x": {"field": "f", "type": "quantitative", "scale": {"domain": [0, 60], "nice": false}, "axis": {"title": "Frequency [Hz]", "values": [0, 10, 20, 30, 40, 50, 60]}},
    "y": {"field": "v", "type": "quantitative", "scale": {"domain": [-3.1416, 3.1416], "nice": false}, "axis": {"title": "Phase [rad]", "values": [-2, 0, 2]}},
    "color": {"field": "s", "type": "nominal", "scale": {"domain": ["HIP", "HEAD"], "range": ["#555555", "#bdbdbd"]}, "legend": null},
    "strokeWidth": {"field": "s", "type": "ordinal", "scale": {"domain": ["HIP", "HEAD"], "range": [1.6, 1.0]}, "legend": null}}},
  {"data": {"name": "a3"}, "width": 214, "height": 55,
   "mark": {"type": "line", "interpolate": "monotone", "clip": true},
   "encoding": {
    "x": {"field": "f", "type": "quantitative", "scale": {"domain": [0, 60], "nice": false}, "axis": {"title": "Frequency [Hz]", "values": [0, 10, 20, 30, 40, 50, 60]}},
    "y": {"field": "v", "type": "quantitative", "scale": {"domain": [0, 1], "nice": false}, "axis": {"title": "Coherence", "values": [0, 0.5, 1]}},
    "color": {"field": "s", "type": "nominal", "scale": {"domain": ["HIP", "HEAD"], "range": ["#555555", "#bdbdbd"]}, "legend": null},
    "strokeWidth": {"field": "s", "type": "ordinal", "scale": {"domain": ["HIP", "HEAD"], "range": [1.6, 1.0]}, "legend": null}}}
 ]},
 {"spacing": 8, "resolve": {"scale": {"color": "independent", "strokeWidth": "independent"}}, "vconcat": [
  {"data": {"name": "b1"}, "width": 214, "height": 55,
   "title": {"text": "(b)", "orient": "left", "angle": 0, "anchor": "end", "align": "left", "baseline": "top", "fontSize": 17, "offset": 2, "dy": 5},
   "mark": {"type": "line", "interpolate": "monotone", "clip": true},
   "encoding": {
    "x": {"field": "f", "type": "quantitative", "scale": {"domain": [0, 60], "nice": false}, "axis": {"title": "Frequency [Hz]", "values": [0, 10, 20, 30, 40, 50, 60]}},
    "y": {"field": "v", "type": "quantitative", "scale": {"domain": [0, 3], "nice": false}, "axis": {"title": "H₁ Amplitude", "values": [0, 1, 2, 3]}},
    "color": {"field": "s", "type": "nominal", "scale": {"domain": ["HIP", "HEAD"], "range": ["#555555", "#bdbdbd"]}, "legend": {"title": null, "orient": "top-right"}},
    "strokeWidth": {"field": "s", "type": "ordinal", "scale": {"domain": ["HIP", "HEAD"], "range": [1.6, 1.0]}, "legend": {"title": null, "orient": "top-right"}}}},
  {"data": {"name": "b2"}, "width": 214, "height": 55,
   "mark": {"type": "line", "interpolate": "monotone", "clip": true},
   "encoding": {
    "x": {"field": "f", "type": "quantitative", "scale": {"domain": [0, 60], "nice": false}, "axis": {"title": "Frequency [Hz]", "values": [0, 10, 20, 30, 40, 50, 60]}},
    "y": {"field": "v", "type": "quantitative", "scale": {"domain": [-3.1416, 3.1416], "nice": false}, "axis": {"title": "Phase [rad]", "values": [-2, 0, 2]}},
    "color": {"field": "s", "type": "nominal", "scale": {"domain": ["HIP", "HEAD"], "range": ["#555555", "#bdbdbd"]}, "legend": null},
    "strokeWidth": {"field": "s", "type": "ordinal", "scale": {"domain": ["HIP", "HEAD"], "range": [1.6, 1.0]}, "legend": null}}},
  {"data": {"name": "b3"}, "width": 214, "height": 55,
   "mark": {"type": "line", "interpolate": "monotone", "clip": true},
   "encoding": {
    "x": {"field": "f", "type": "quantitative", "scale": {"domain": [0, 60], "nice": false}, "axis": {"title": "Frequency [Hz]", "values": [0, 10, 20, 30, 40, 50, 60]}},
    "y": {"field": "v", "type": "quantitative", "scale": {"domain": [0, 1], "nice": false}, "axis": {"title": "Coherence", "values": [0, 0.5, 1]}},
    "color": {"field": "s", "type": "nominal", "scale": {"domain": ["HIP", "HEAD"], "range": ["#555555", "#bdbdbd"]}, "legend": null},
    "strokeWidth": {"field": "s", "type": "ordinal", "scale": {"domain": ["HIP", "HEAD"], "range": [1.6, 1.0]}, "legend": null}}}
 ]}
], "spacing": 15, "resolve": {"scale": {"color": "independent", "strokeWidth": "independent"}}},
{"hconcat": [
 {"spacing": 8, "resolve": {"scale": {"color": "independent", "strokeWidth": "independent"}}, "vconcat": [
  {"data": {"name": "c1"}, "width": 214, "height": 55,
   "title": {"text": "(c)", "orient": "left", "angle": 0, "anchor": "end", "align": "left", "baseline": "top", "fontSize": 17, "offset": 2, "dy": 5},
   "mark": {"type": "line", "interpolate": "monotone", "clip": true},
   "encoding": {
    "x": {"field": "f", "type": "quantitative", "scale": {"domain": [0, 60], "nice": false}, "axis": {"title": "Frequency [Hz]", "values": [0, 10, 20, 30, 40, 50, 60]}},
    "y": {"field": "v", "type": "quantitative", "scale": {"domain": [0, 4], "nice": false}, "axis": {"title": "H₁ Amplitude", "values": [0, 2, 4]}},
    "color": {"field": "s", "type": "nominal", "scale": {"domain": ["HIP", "HEAD"], "range": ["#555555", "#bdbdbd"]}, "legend": {"title": null, "orient": "top-right"}},
    "strokeWidth": {"field": "s", "type": "ordinal", "scale": {"domain": ["HIP", "HEAD"], "range": [1.6, 1.0]}, "legend": {"title": null, "orient": "top-right"}}}},
  {"data": {"name": "c2"}, "width": 214, "height": 55,
   "mark": {"type": "line", "interpolate": "monotone", "clip": true},
   "encoding": {
    "x": {"field": "f", "type": "quantitative", "scale": {"domain": [0, 60], "nice": false}, "axis": {"title": "Frequency [Hz]", "values": [0, 10, 20, 30, 40, 50, 60]}},
    "y": {"field": "v", "type": "quantitative", "scale": {"domain": [-3.1416, 3.1416], "nice": false}, "axis": {"title": "Phase [rad]", "values": [-2, 0, 2]}},
    "color": {"field": "s", "type": "nominal", "scale": {"domain": ["HIP", "HEAD"], "range": ["#555555", "#bdbdbd"]}, "legend": null},
    "strokeWidth": {"field": "s", "type": "ordinal", "scale": {"domain": ["HIP", "HEAD"], "range": [1.6, 1.0]}, "legend": null}}},
  {"data": {"name": "c3"}, "width": 214, "height": 55,
   "mark": {"type": "line", "interpolate": "monotone", "clip": true},
   "encoding": {
    "x": {"field": "f", "type": "quantitative", "scale": {"domain": [0, 60], "nice": false}, "axis": {"title": "Frequency [Hz]", "values": [0, 10, 20, 30, 40, 50, 60]}},
    "y": {"field": "v", "type": "quantitative", "scale": {"domain": [0, 1], "nice": false}, "axis": {"title": "Coherence", "values": [0, 0.5, 1]}},
    "color": {"field": "s", "type": "nominal", "scale": {"domain": ["HIP", "HEAD"], "range": ["#555555", "#bdbdbd"]}, "legend": null},
    "strokeWidth": {"field": "s", "type": "ordinal", "scale": {"domain": ["HIP", "HEAD"], "range": [1.6, 1.0]}, "legend": null}}}
 ]},
 {"spacing": 8, "resolve": {"scale": {"color": "independent", "strokeWidth": "independent"}}, "vconcat": [
  {"data": {"name": "d1"}, "width": 214, "height": 55,
   "title": {"text": "(d)", "orient": "left", "angle": 0, "anchor": "end", "align": "left", "baseline": "top", "fontSize": 17, "offset": 2, "dy": 5},
   "mark": {"type": "line", "interpolate": "monotone", "clip": true},
   "encoding": {
    "x": {"field": "f", "type": "quantitative", "scale": {"domain": [0, 60], "nice": false}, "axis": {"title": "Frequency [Hz]", "values": [0, 10, 20, 30, 40, 50, 60]}},
    "y": {"field": "v", "type": "quantitative", "scale": {"domain": [0, 2.15], "nice": false}, "axis": {"title": "H₁ Amplitude", "values": [0, 1, 2]}},
    "color": {"field": "s", "type": "nominal", "scale": {"domain": ["HIP", "HEAD"], "range": ["#555555", "#bdbdbd"]}, "legend": {"title": null, "orient": "top-right"}},
    "strokeWidth": {"field": "s", "type": "ordinal", "scale": {"domain": ["HIP", "HEAD"], "range": [1.6, 1.0]}, "legend": {"title": null, "orient": "top-right"}}}},
  {"data": {"name": "d2"}, "width": 214, "height": 55,
   "mark": {"type": "line", "interpolate": "monotone", "clip": true},
   "encoding": {
    "x": {"field": "f", "type": "quantitative", "scale": {"domain": [0, 60], "nice": false}, "axis": {"title": "Frequency [Hz]", "values": [0, 10, 20, 30, 40, 50, 60]}},
    "y": {"field": "v", "type": "quantitative", "scale": {"domain": [-3.1416, 3.1416], "nice": false}, "axis": {"title": "Phase [rad]", "values": [-2, 0, 2]}},
    "color": {"field": "s", "type": "nominal", "scale": {"domain": ["HIP", "HEAD"], "range": ["#555555", "#bdbdbd"]}, "legend": null},
    "strokeWidth": {"field": "s", "type": "ordinal", "scale": {"domain": ["HIP", "HEAD"], "range": [1.6, 1.0]}, "legend": null}}},
  {"data": {"name": "d3"}, "width": 214, "height": 55,
   "mark": {"type": "line", "interpolate": "monotone", "clip": true},
   "encoding": {
    "x": {"field": "f", "type": "quantitative", "scale": {"domain": [0, 60], "nice": false}, "axis": {"title": "Frequency [Hz]", "values": [0, 10, 20, 30, 40, 50, 60]}},
    "y": {"field": "v", "type": "quantitative", "scale": {"domain": [0, 1], "nice": false}, "axis": {"title": "Coherence", "values": [0, 0.5, 1]}},
    "color": {"field": "s", "type": "nominal", "scale": {"domain": ["HIP", "HEAD"], "range": ["#555555", "#bdbdbd"]}, "legend": null},
    "strokeWidth": {"field": "s", "type": "ordinal", "scale": {"domain": ["HIP", "HEAD"], "range": [1.6, 1.0]}, "legend": null}}}
 ]}
], "spacing": 15, "resolve": {"scale": {"color": "independent", "strokeWidth": "independent"}}}
]
}
